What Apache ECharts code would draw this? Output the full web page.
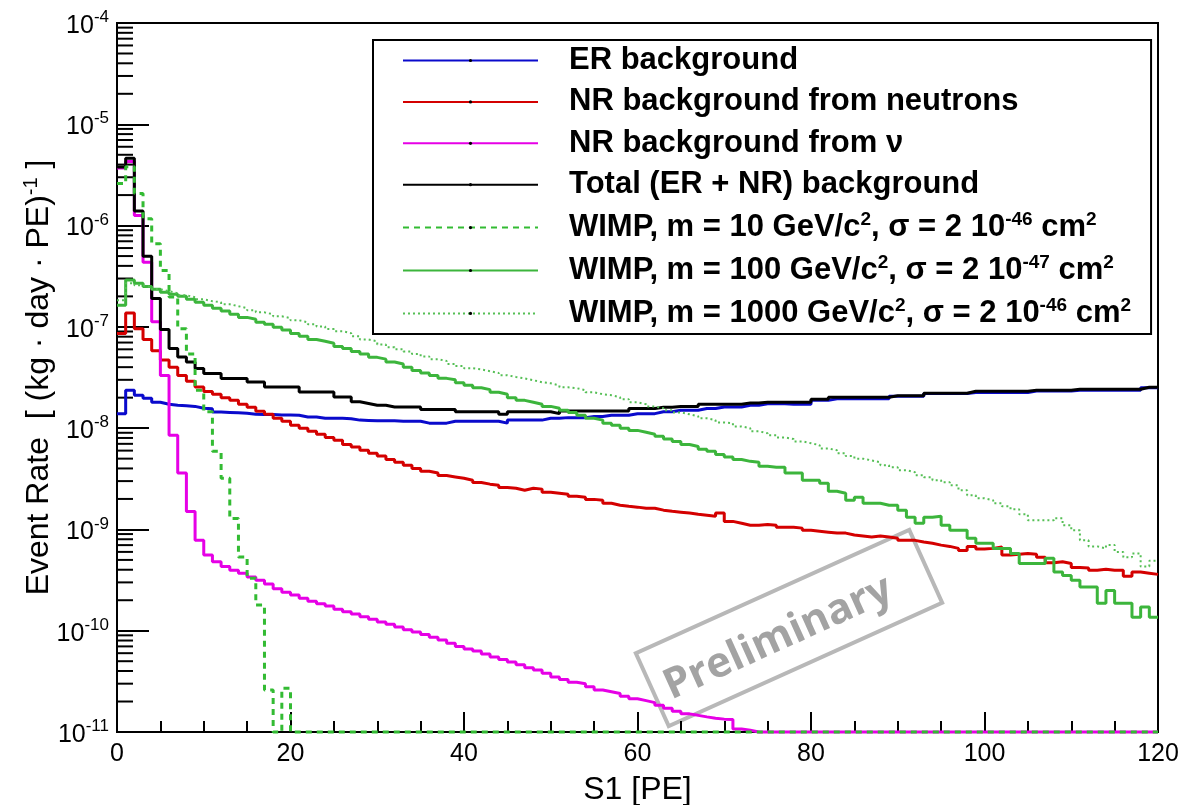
<!DOCTYPE html>
<html>
<head>
<meta charset="utf-8">
<script src="https://cdn.jsdelivr.net/npm/echarts@6/dist/echarts.min.js"></script>
<style>
html,body{margin:0;padding:0;background:#fff;}
#chart{width:1181px;height:805px;}
</style>
</head>
<body>
<div id="chart"></div>
<script>
// ---------- data (1 PE wide bins, lower edges 0..119) ----------
const binCount = 120;
const xTickValues = [0, 20, 40, 60, 80, 100, 120];
const yExponents = [-11, -10, -9, -8, -7, -6, -5, -4];

const erBackground = [
 1.39e-8, 2.37e-8, 2.11e-8, 1.97e-8, 1.80e-8, 1.72e-8, 1.68e-8, 1.66e-8, 1.64e-8, 1.57e-8,
 1.55e-8, 1.44e-8, 1.43e-8, 1.42e-8, 1.40e-8, 1.37e-8, 1.36e-8, 1.36e-8, 1.35e-8, 1.35e-8,
 1.34e-8, 1.29e-8, 1.29e-8, 1.25e-8, 1.25e-8, 1.25e-8, 1.24e-8, 1.20e-8, 1.19e-8, 1.18e-8,
 1.18e-8, 1.18e-8, 1.17e-8, 1.17e-8, 1.17e-8, 1.12e-8, 1.12e-8, 1.12e-8, 1.17e-8, 1.17e-8,
 1.17e-8, 1.17e-8, 1.17e-8, 1.17e-8, 1.12e-8, 1.20e-8, 1.20e-8, 1.20e-8, 1.20e-8, 1.25e-8,
 1.25e-8, 1.27e-8, 1.27e-8, 1.27e-8, 1.30e-8, 1.30e-8, 1.34e-8, 1.34e-8, 1.34e-8, 1.39e-8,
 1.39e-8, 1.39e-8, 1.45e-8, 1.45e-8, 1.50e-8, 1.50e-8, 1.50e-8, 1.56e-8, 1.56e-8, 1.62e-8,
 1.62e-8, 1.62e-8, 1.68e-8, 1.68e-8, 1.74e-8, 1.74e-8, 1.74e-8, 1.72e-8, 1.72e-8, 1.72e-8,
 1.88e-8, 1.88e-8, 1.95e-8, 1.95e-8, 1.95e-8, 1.95e-8, 1.95e-8, 1.95e-8, 1.95e-8, 2.07e-8,
 2.07e-8, 2.07e-8, 2.07e-8, 2.20e-8, 2.20e-8, 2.20e-8, 2.20e-8, 2.20e-8, 2.25e-8, 2.25e-8,
 2.25e-8, 2.25e-8, 2.25e-8, 2.25e-8, 2.25e-8, 2.33e-8, 2.33e-8, 2.33e-8, 2.33e-8, 2.33e-8,
 2.37e-8, 2.37e-8, 2.37e-8, 2.37e-8, 2.37e-8, 2.37e-8, 2.37e-8, 2.37e-8, 2.50e-8, 2.50e-8
];

const nrNeutrons = [
 8.6e-8, 1.37e-7, 9.6e-8, 7.5e-8, 5.8e-8, 4.7e-8, 4.0e-8, 3.3e-8, 2.9e-8, 2.55e-8,
 2.3e-8, 2.16e-8, 2.0e-8, 1.88e-8, 1.72e-8, 1.61e-8, 1.47e-8, 1.37e-8, 1.25e-8, 1.17e-8,
 1.07e-8, 1.0e-8, 9.3e-9, 8.7e-9, 8.1e-9, 7.6e-9, 6.9e-9, 6.5e-9, 6.05e-9, 5.65e-9,
 5.3e-9, 4.9e-9, 4.6e-9, 4.3e-9, 4.0e-9, 3.75e-9, 3.6e-9, 3.4e-9, 3.3e-9, 3.2e-9,
 3.06e-9, 2.9e-9, 2.8e-9, 2.73e-9, 2.6e-9, 2.55e-9, 2.44e-9, 2.55e-9, 2.5e-9, 2.33e-9,
 2.28e-9, 2.23e-9, 2.13e-9, 2.08e-9, 1.98e-9, 1.94e-9, 1.81e-9, 1.73e-9, 1.69e-9, 1.66e-9,
 1.62e-9, 1.62e-9, 1.55e-9, 1.51e-9, 1.48e-9, 1.45e-9, 1.41e-9, 1.38e-9, 1.35e-9, 1.45e-9,
 1.2e-9, 1.15e-9, 1.1e-9, 1.1e-9, 1.12e-9, 1.1e-9, 1.05e-9, 1.05e-9, 1.03e-9, 9.8e-10,
 9.6e-10, 9.4e-10, 9.2e-10, 9.2e-10, 8.8e-10, 8.6e-10, 8.4e-10, 8.6e-10, 8.4e-10, 8.2e-10,
 7.8e-10, 7.8e-10, 7.5e-10, 7.3e-10, 7.0e-10, 6.8e-10, 6.5e-10, 6.2e-10, 6.8e-10, 6.4e-10,
 6.5e-10, 6.7e-10, 5.6e-10, 5.7e-10, 5.8e-10, 5.7e-10, 5.3e-10, 4.7e-10, 4.8e-10, 4.6e-10,
 4.2e-10, 4.15e-10, 3.95e-10, 4.05e-10, 3.95e-10, 3.95e-10, 3.45e-10, 3.8e-10, 3.7e-10, 3.6e-10
];

const nrNeutrinos = [
 3.7e-6, 4.3e-6, 1.26e-6, 4.35e-7, 1.12e-7, 3.3e-8, 8.5e-9, 3.6e-9, 1.5e-9, 7.8e-10,
 5.6e-10, 4.8e-10, 4.3e-10, 3.95e-10, 3.7e-10, 3.4e-10, 3.15e-10, 2.9e-10, 2.6e-10, 2.4e-10,
 2.25e-10, 2.09e-10, 1.95e-10, 1.85e-10, 1.75e-10, 1.63e-10, 1.54e-10, 1.46e-10, 1.37e-10, 1.30e-10,
 1.22e-10, 1.16e-10, 1.09e-10, 1.02e-10, 9.7e-11, 9.2e-11, 8.6e-11, 8.1e-11, 7.5e-11, 7.0e-11,
 6.6e-11, 6.3e-11, 5.9e-11, 5.5e-11, 5.2e-11, 4.9e-11, 4.6e-11, 4.3e-11, 4.1e-11, 3.8e-11,
 3.5e-11, 3.3e-11, 3.1e-11, 3.0e-11, 2.8e-11, 2.6e-11, 2.5e-11, 2.4e-11, 2.26e-11, 2.13e-11,
 2.04e-11, 1.95e-11, 1.84e-11, 1.72e-11, 1.6e-11, 1.51e-11, 1.46e-11, 1.41e-11, 1.37e-11, 1.34e-11,
 1.33e-11, 1.07e-11, 1.04e-11, 0, 0, 0, 0, 0, 0, 0,
 0, 0, 0, 0, 0, 0, 0, 0, 0, 0,
 0, 0, 0, 0, 0, 0, 0, 0, 0, 0,
 0, 0, 0, 0, 0, 0, 0, 0, 0, 0,
 0, 0, 0, 0, 0, 0, 0, 0, 0, 0
];

const totalBackground = [
 3.79e-6, 4.61e-6, 1.39e-6, 4.98e-7, 1.90e-7, 9.4e-8, 6.1e-8, 5.05e-8, 4.5e-8, 3.87e-8,
 3.46e-8, 3.46e-8, 3.09e-8, 3.09e-8, 3.09e-8, 2.86e-8, 2.86e-8, 2.55e-8, 2.55e-8, 2.55e-8,
 2.55e-8, 2.28e-8, 2.28e-8, 2.28e-8, 2.28e-8, 2.03e-8, 2.03e-8, 1.82e-8, 1.75e-8, 1.68e-8,
 1.68e-8, 1.62e-8, 1.62e-8, 1.62e-8, 1.62e-8, 1.53e-8, 1.53e-8, 1.53e-8, 1.53e-8, 1.45e-8,
 1.45e-8, 1.45e-8, 1.45e-8, 1.45e-8, 1.37e-8, 1.45e-8, 1.45e-8, 1.45e-8, 1.45e-8, 1.45e-8,
 1.39e-8, 1.48e-8, 1.48e-8, 1.48e-8, 1.48e-8, 1.48e-8, 1.48e-8, 1.48e-8, 1.48e-8, 1.56e-8,
 1.56e-8, 1.56e-8, 1.61e-8, 1.61e-8, 1.64e-8, 1.64e-8, 1.64e-8, 1.72e-8, 1.72e-8, 1.72e-8,
 1.72e-8, 1.72e-8, 1.77e-8, 1.77e-8, 1.80e-8, 1.80e-8, 1.80e-8, 1.80e-8, 1.80e-8, 1.80e-8,
 1.93e-8, 1.93e-8, 2.02e-8, 2.02e-8, 2.02e-8, 2.02e-8, 2.02e-8, 2.02e-8, 2.02e-8, 2.09e-8,
 2.09e-8, 2.09e-8, 2.09e-8, 2.21e-8, 2.21e-8, 2.21e-8, 2.21e-8, 2.21e-8, 2.31e-8, 2.31e-8,
 2.31e-8, 2.31e-8, 2.31e-8, 2.31e-8, 2.31e-8, 2.37e-8, 2.37e-8, 2.37e-8, 2.37e-8, 2.37e-8,
 2.42e-8, 2.42e-8, 2.42e-8, 2.42e-8, 2.42e-8, 2.42e-8, 2.42e-8, 2.42e-8, 2.53e-8, 2.53e-8
];

const wimp10 = [
 2.6e-6, 3.8e-6, 2.07e-6, 1.17e-6, 6.6e-7, 3.6e-7, 1.97e-7, 9.6e-8, 5.4e-8, 2.37e-8,
 1.45e-8, 5.9e-9, 3.2e-9, 1.28e-9, 5.35e-10, 3.3e-10, 1.79e-10, 2.6e-11, 0, 2.7e-11,
 0, 0, 0, 0, 0, 0, 0, 0, 0, 0,
 0, 0, 0, 0, 0, 0, 0, 0, 0, 0,
 0, 0, 0, 0, 0, 0, 0, 0, 0, 0,
 0, 0, 0, 0, 0, 0, 0, 0, 0, 0,
 0, 0, 0, 0, 0, 0, 0, 0, 0, 0,
 0, 0, 0, 0, 0, 0, 0, 0, 0, 0,
 0, 0, 0, 0, 0, 0, 0, 0, 0, 0,
 0, 0, 0, 0, 0, 0, 0, 0, 0, 0,
 0, 0, 0, 0, 0, 0, 0, 0, 0, 0,
 0, 0, 0, 0, 0, 0, 0, 0, 0, 0
];

const wimp100 = [
 1.63e-7, 2.9e-7, 2.7e-7, 2.5e-7, 2.35e-7, 2.2e-7, 2.1e-7, 2.0e-7, 1.87e-7, 1.75e-7,
 1.63e-7, 1.53e-7, 1.43e-7, 1.33e-7, 1.24e-7, 1.19e-7, 1.11e-7, 1.06e-7, 9.9e-8, 9.3e-8,
 8.6e-8, 8.1e-8, 7.5e-8, 7.2e-8, 6.9e-8, 6.4e-8, 6.1e-8, 5.7e-8, 5.4e-8, 5.0e-8,
 4.8e-8, 4.5e-8, 4.3e-8, 4.0e-8, 3.7e-8, 3.5e-8, 3.3e-8, 3.1e-8, 3.0e-8, 2.8e-8,
 2.65e-8, 2.5e-8, 2.4e-8, 2.26e-8, 2.16e-8, 2.0e-8, 1.88e-8, 1.8e-8, 1.72e-8, 1.64e-8,
 1.57e-8, 1.5e-8, 1.43e-8, 1.34e-8, 1.25e-8, 1.2e-8, 1.12e-8, 1.07e-8, 1.0e-8, 9.5e-9,
 9.1e-9, 8.7e-9, 8.3e-9, 7.8e-9, 7.4e-9, 6.9e-9, 6.6e-9, 6.2e-9, 5.9e-9, 5.5e-9,
 5.2e-9, 4.9e-9, 4.7e-9, 4.6e-9, 4.2e-9, 4.1e-9, 4.1e-9, 3.6e-9, 3.6e-9, 3.06e-9,
 3.06e-9, 2.86e-9, 2.38e-9, 2.28e-9, 1.94e-9, 2.08e-9, 1.81e-9, 1.81e-9, 1.73e-9, 1.73e-9,
 1.55e-9, 1.32e-9, 1.15e-9, 1.32e-9, 1.35e-9, 1.1e-9, 9.8e-10, 9.8e-10, 8.2e-10, 7.3e-10,
 7.3e-10, 6.5e-10, 6.5e-10, 5.8e-10, 4.6e-10, 4.6e-10, 4.6e-10, 5.2e-10, 3.8e-10, 3.5e-10,
 3.15e-10, 2.7e-10, 2.7e-10, 1.87e-10, 2.5e-10, 1.87e-10, 1.87e-10, 1.36e-10, 1.71e-10, 1.36e-10
];

const wimp1000 = [
 1.83e-7, 2.69e-7, 2.57e-7, 2.46e-7, 2.35e-7, 2.25e-7, 2.15e-7, 2.05e-7, 1.96e-7, 1.87e-7,
 1.79e-7, 1.75e-7, 1.67e-7, 1.60e-7, 1.53e-7, 1.46e-7, 1.39e-7, 1.33e-7, 1.27e-7, 1.22e-7,
 1.16e-7, 1.11e-7, 1.06e-7, 1.01e-7, 9.5e-8, 9.05e-8, 8.65e-8, 8.1e-8, 7.5e-8, 7.2e-8,
 6.7e-8, 6.3e-8, 6.0e-8, 5.7e-8, 5.4e-8, 5.1e-8, 4.8e-8, 4.6e-8, 4.3e-8, 4.1e-8,
 3.9e-8, 3.8e-8, 3.65e-8, 3.5e-8, 3.33e-8, 3.2e-8, 3.1e-8, 2.97e-8, 2.84e-8, 2.77e-8,
 2.65e-8, 2.53e-8, 2.48e-8, 2.37e-8, 2.26e-8, 2.16e-8, 2.11e-8, 2.02e-8, 1.93e-8, 1.8e-8,
 1.72e-8, 1.64e-8, 1.57e-8, 1.5e-8, 1.43e-8, 1.37e-8, 1.31e-8, 1.25e-8, 1.2e-8, 1.14e-8,
 1.12e-8, 1.04e-8, 1.0e-8, 9.3e-9, 8.9e-9, 8.5e-9, 8.1e-9, 7.8e-9, 7.4e-9, 7.1e-9,
 6.8e-9, 6.3e-9, 6.05e-9, 5.65e-9, 5.3e-9, 5.0e-9, 4.8e-9, 4.6e-9, 4.3e-9, 4.1e-9,
 3.84e-9, 3.67e-9, 3.43e-9, 3.27e-9, 3.06e-9, 2.92e-9, 2.73e-9, 2.44e-9, 2.17e-9, 2.03e-9,
 1.94e-9, 1.81e-9, 1.69e-9, 1.58e-9, 1.41e-9, 1.23e-9, 1.23e-9, 1.23e-9, 1.29e-9, 1.1e-9,
 9.8e-10, 7.8e-10, 6.8e-10, 6.5e-10, 7.0e-10, 6.0e-10, 5.3e-10, 5.8e-10, 4.3e-10, 4.9e-10
];

const seriesNames = [
  'ER background',
  'NR background from neutrons',
  'NR background from ν',
  'Total (ER + NR) background',
  'WIMP, m = 10 GeV/c², σ = 2 10⁻⁴⁶ cm²',
  'WIMP, m = 100 GeV/c², σ = 2 10⁻⁴⁷ cm²',
  'WIMP, m = 1000 GeV/c², σ = 2 10⁻⁴⁶ cm²'
];
const legendRich = [
  '{t|ER background}',
  '{t|NR background from neutrons}',
  '{t|NR background from ν}',
  '{t|Total (ER + NR) background}',
  '{t|WIMP, m = 10 GeV/c}{s|2}{t|, σ = 2 10}{s|-46}{t| cm}{s|2}',
  '{t|WIMP, m = 100 GeV/c}{s|2}{t|, σ = 2 10}{s|-47}{t| cm}{s|2}',
  '{t|WIMP, m = 1000 GeV/c}{s|2}{t|, σ = 2 10}{s|-46}{t| cm}{s|2}'
];

// ---------- chart ----------
const Y_MIN = 1e-11, Y_MAX = 1e-4;
const FONT = 'Liberation Sans';

function histData(vals) {
  const d = vals.map((v, i) => [i, Math.max(v, Y_MIN)]);
  d.push([vals.length, Math.max(vals[vals.length - 1], Y_MIN)]);
  return d;
}

// minor ticks 2..9 x 10^k on log axis
const minorTickVals = [];
for (let k = yExponents[0]; k < yExponents[yExponents.length - 1]; k++) {
  for (let m = 2; m <= 9; m++) minorTickVals.push([0, m * Math.pow(10, k)]);
}

function lineSeries(name, vals, color, width, type) {
  return {
    name: name, type: 'line', step: 'end', data: histData(vals),
    symbol: 'none', showSymbol: false, clip: false, animation: false,
    lineStyle: { color: color, width: width, type: type || 'solid' },
    itemStyle: { color: color }
  };
}

const chart = echarts.init(document.getElementById('chart'), null, { renderer: 'canvas' });
const option = {
  animation: false,
  backgroundColor: '#fff',
  textStyle: { fontFamily: FONT },
  grid: { left: 117, right: 23, top: 23, bottom: 73, containLabel: false, outerBoundsMode: 'none',
          show: true, borderColor: '#000', borderWidth: 2, backgroundColor: 'transparent' },
  xAxis: {
    type: 'value', min: 0, max: 120, interval: 20,
    axisLine: { show: true, lineStyle: { color: '#000', width: 2 } },
    axisTick: { show: true, inside: true, length: 20, lineStyle: { color: '#000', width: 2 } },
    minorTick: { show: true, splitNumber: 4, length: 11, lineStyle: { color: '#000', width: 2 } },
    splitLine: { show: false },
    axisLabel: { color: '#000', fontSize: 25, margin: 10, fontFamily: FONT,
      formatter: v => (xTickValues.indexOf(v) >= 0 ? String(v) : '') },
    name: 'S1 [PE]', nameLocation: 'middle', nameGap: 42, nameMoveOverlap: false,
    nameTextStyle: { color: '#000', fontSize: 32, fontFamily: FONT }
  },
  yAxis: {
    type: 'log', logBase: 10, min: Y_MIN, max: Y_MAX,
    axisLine: { show: true, lineStyle: { color: '#000', width: 2 } },
    axisTick: { show: true, inside: true, length: 32, lineStyle: { color: '#000', width: 2 } },
    splitLine: { show: false },
    axisLabel: {
      margin: 8,
      formatter: v => '{b|10}{s|' + Math.round(Math.log10(v)) + '}',
      rich: {
        b: { fontSize: 25, color: '#000', fontFamily: FONT, lineHeight: 28, padding: [6, 0, 0, 0] },
        s: { fontSize: 17, color: '#000', fontFamily: FONT, lineHeight: 17, verticalAlign: 'top' }
      }
    },
    name: '{t|Event Rate  [ (kg · day · PE)}{s|-1}{t| ]}',
    nameLocation: 'middle', nameGap: 60, nameMoveOverlap: false,
    nameTextStyle: {
      rich: {
        t: { fontSize: 32, color: '#000', fontFamily: FONT, lineHeight: 36 },
        s: { fontSize: 20, color: '#000', fontFamily: FONT, lineHeight: 20, verticalAlign: 'top' }
      }
    }
  },
  legend: {
    orient: 'vertical', left: 373, top: 40,
    data: seriesNames,
    itemWidth: 135, itemHeight: 4, itemGap: 10.4,
    padding: [5, 20, 5, 29],
    borderColor: '#000', borderWidth: 2, backgroundColor: '#fff',
    selectedMode: false,
    itemStyle: { color: '#000', borderWidth: 0 },
    formatter: name => legendRich[seriesNames.indexOf(name)],
    textStyle: {
      padding: [0, 0, 0, 26],
      rich: {
        t: { fontSize: 31, fontWeight: 'bold', color: '#000', fontFamily: FONT, lineHeight: 34 },
        s: { fontSize: 19, fontWeight: 'bold', color: '#000', fontFamily: FONT, lineHeight: 19, verticalAlign: 'top' }
      }
    }
  },
  graphic: [{
    type: 'group', x: 789, y: 628, rotation: 24.3 * Math.PI / 180, z: 100,
    children: [
      { type: 'rect', shape: { x: -150, y: -40, width: 300, height: 80 },
        style: { fill: 'none', stroke: '#b8b8b8', lineWidth: 4 } },
      { type: 'text', x: -14, y: 5,
        style: { text: 'Preliminary', fontFamily: 'Open Sans', fontWeight: 'bold', fontSize: 42,
                 fill: '#a3a3a3', align: 'center', verticalAlign: 'middle' } }
    ]
  }],
  series: [
    lineSeries(seriesNames[0], erBackground, '#0a0acc', 3),
    lineSeries(seriesNames[1], nrNeutrons, '#d40000', 3),
    lineSeries(seriesNames[2], nrNeutrinos, '#e600e6', 3),
    lineSeries(seriesNames[3], totalBackground, '#000000', 3),
    lineSeries(seriesNames[4], wimp10, '#33bb33', 3, [6, 5]),
    lineSeries(seriesNames[5], wimp100, '#3cb53c', 3),
    lineSeries(seriesNames[6], wimp1000, '#55bf55', 2, [2, 3]),
    {
      type: 'custom', silent: true, clip: false, z: 3,
      data: minorTickVals,
      renderItem: function (params, api) {
        const p = api.coord([api.value(0), api.value(1)]);
        return { type: 'line', shape: { x1: p[0], y1: p[1], x2: p[0] + 16, y2: p[1] },
                 style: { stroke: '#000', lineWidth: 2 } };
      }
    }
  ]
};
chart.setOption(option);
</script>
</body>
</html>
